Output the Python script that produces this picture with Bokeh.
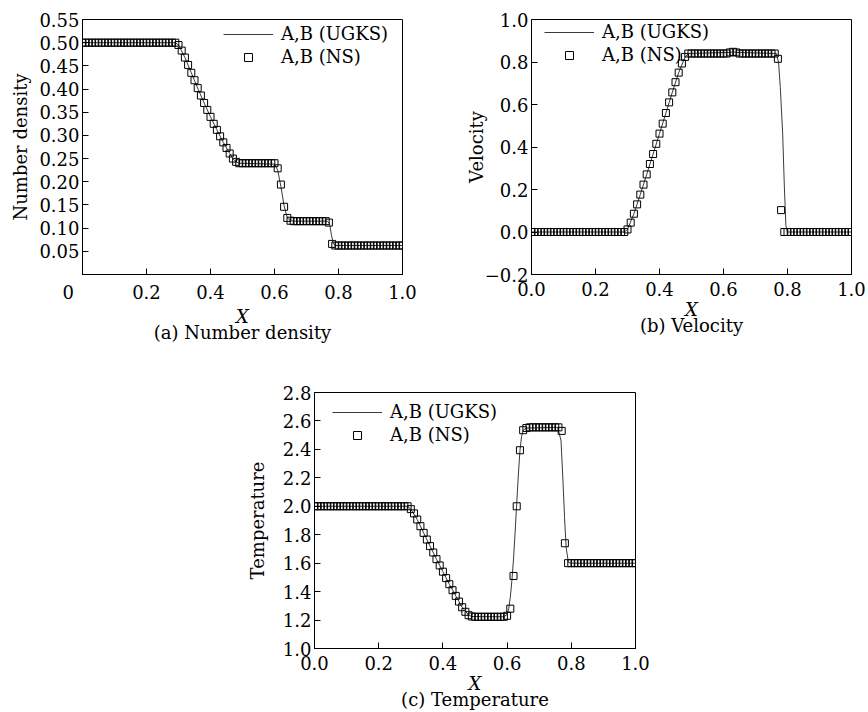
from bokeh.plotting import figure
from bokeh.layouts import column, row
from bokeh.models import (Range1d, FixedTicker, PrintfTickFormatter, Legend, LegendItem,
                          LinearAxis, Spacer)
from bokeh.embed import file_html
from bokeh.resources import INLINE

# ---------------- data ----------------
ns_x = [i / 100 for i in range(101)]

density_ns = ([0.5] * 30 +
              [0.495, 0.483, 0.468, 0.452, 0.435, 0.419, 0.402, 0.386, 0.370, 0.355,
               0.340, 0.325, 0.312, 0.298, 0.285, 0.273, 0.261, 0.250, 0.243] +
              [0.240] * 12 +
              [0.229, 0.194, 0.146, 0.122, 0.116] +
              [0.115] * 11 +
              [0.112, 0.066] +
              [0.0625] * 22)

velocity_ns = ([0.0] * 30 +
               [0.012, 0.044, 0.086, 0.130, 0.176, 0.223, 0.271, 0.320, 0.367, 0.415,
                0.463, 0.510, 0.560, 0.610, 0.657, 0.705, 0.750, 0.793, 0.824] +
               [0.84] * 13 +
               [0.845, 0.848, 0.845] +
               [0.84] * 12 +
               [0.815, 0.103] +
               [0.0] * 22)

temperature_ns = ([2.0] * 30 +
                  [1.98, 1.95, 1.907, 1.86, 1.813, 1.766, 1.72, 1.675, 1.628, 1.584,
                   1.54, 1.495, 1.452, 1.41, 1.37, 1.33, 1.29, 1.258, 1.234] +
                  [1.225] + [1.223] * 10 +
                  [1.23, 1.28, 1.51, 2.0, 2.394, 2.535, 2.55] +
                  [2.555] * 10 +
                  [2.53, 1.74] +
                  [1.6] * 22)

density_ugks_x = [0.0, 0.29, 0.30, 0.32, 0.34, 0.36, 0.38, 0.40, 0.42, 0.44, 0.46, 0.47, 0.48,
                  0.49, 0.60, 0.61, 0.62, 0.63, 0.64, 0.65, 0.66, 0.765, 0.772, 0.778, 0.784,
                  0.79, 1.0]
density_ugks = [0.5, 0.5, 0.495, 0.468, 0.435, 0.402, 0.370, 0.340, 0.312, 0.285, 0.261, 0.250,
                0.243, 0.240, 0.238, 0.225, 0.19, 0.148, 0.122, 0.116, 0.115, 0.115, 0.11,
                0.085, 0.066, 0.0625, 0.0625]

velocity_ugks_x = [0.0, 0.29, 0.30, 0.32, 0.34, 0.36, 0.38, 0.40, 0.42, 0.44, 0.46, 0.48, 0.49,
                   0.62, 0.63, 0.64, 0.765, 0.772, 0.7775, 0.785, 0.79, 0.795, 0.80, 1.0]
velocity_ugks = [0.0, 0.0, 0.012, 0.086, 0.176, 0.271, 0.367, 0.463, 0.56, 0.657, 0.75, 0.824,
                 0.84, 0.845, 0.848, 0.845, 0.84, 0.80, 0.68, 0.46, 0.22, 0.03, 0.0, 0.0]

temperature_ugks_x = [0.0, 0.29, 0.30, 0.32, 0.34, 0.36, 0.38, 0.40, 0.42, 0.44, 0.46, 0.48, 0.49,
                      0.59, 0.60, 0.605, 0.61, 0.615, 0.62, 0.625, 0.63, 0.635, 0.64, 0.645,
                      0.65, 0.66, 0.758, 0.768, 0.774, 0.779, 0.784, 0.791, 0.80, 1.0]
temperature_ugks = [2.0, 2.0, 1.98, 1.907, 1.813, 1.72, 1.628, 1.54, 1.452, 1.37, 1.29, 1.234,
                    1.225, 1.223, 1.24, 1.28, 1.36, 1.48, 1.63, 1.82, 2.02, 2.22, 2.39, 2.49,
                    2.535, 2.55, 2.555, 2.46, 2.18, 1.92, 1.71, 1.605, 1.6, 1.6]

x_ticks = [0.0, 0.2, 0.4, 0.6, 0.8, 1.0]
density_ticks = [0.05, 0.10, 0.15, 0.20, 0.25, 0.30, 0.35, 0.40, 0.45, 0.50, 0.55]
velocity_ticks = [-0.2, 0.0, 0.2, 0.4, 0.6, 0.8, 1.0]
temperature_ticks = [1.0, 1.2, 1.4, 1.6, 1.8, 2.0, 2.2, 2.4, 2.6, 2.8]

label_ugks = "A,B (UGKS)"
label_ns = "A,B (NS)"

FONT = "'DejaVu Serif', serif"
FS = "18px"


def style_axis(ax):
    ax.major_tick_in = 6
    ax.major_tick_out = 0
    ax.minor_tick_in = 0
    ax.minor_tick_out = 0
    ax.axis_line_color = "black"
    ax.major_tick_line_color = "black"
    ax.major_label_text_font = FONT
    ax.major_label_text_font_size = FS
    ax.major_label_text_color = "black"
    ax.axis_label_text_font = FONT
    ax.axis_label_text_font_size = FS
    ax.axis_label_text_color = "black"


def make_panel(width, height, borders, yrange, yticks, yfmt, ylabel, caption,
               xs_line, ys_line, ys_ns, legend_xy, ylabel_standoff):
    left, right, top, bottom = borders
    p = figure(width=width, height=height, output_backend="svg", toolbar_location=None,
               x_range=Range1d(0, 1), y_range=Range1d(*yrange),
               min_border_left=left, min_border_right=right,
               min_border_top=top, min_border_bottom=bottom)
    p.grid.visible = False
    p.outline_line_color = "black"
    p.outline_line_width = 1
    p.background_fill_color = "white"
    p.border_fill_color = "white"

    style_axis(p.xaxis[0])
    style_axis(p.yaxis[0])

    p.xaxis.ticker = FixedTicker(ticks=x_ticks)
    p.xaxis.formatter = PrintfTickFormatter(format="%.1f")
    p.xaxis.major_label_standoff = 7
    p.xaxis.axis_label = "X"
    p.xaxis.axis_label_text_font_style = "italic"
    p.xaxis.axis_label_standoff = 0

    p.yaxis.ticker = FixedTicker(ticks=yticks)
    p.yaxis.formatter = PrintfTickFormatter(format=yfmt)
    p.yaxis.major_label_standoff = 3
    p.yaxis.axis_label = ylabel
    p.yaxis.axis_label_text_font_style = "normal"
    p.yaxis.axis_label_standoff = ylabel_standoff

    # caption: an extra, tick-less axis below the X axis
    cap_axis = LinearAxis(ticker=FixedTicker(ticks=[]), axis_label=caption)
    style_axis(cap_axis)
    cap_axis.axis_line_color = None
    cap_axis.major_tick_line_color = None
    cap_axis.major_label_text_font_size = "0px"
    cap_axis.major_label_standoff = 0
    cap_axis.major_tick_in = 0
    cap_axis.axis_label_text_font_style = "normal"
    cap_axis.axis_label_standoff = -8
    p.add_layout(cap_axis, "below")

    r_line = p.line(xs_line, ys_line, line_color="#3a3a3a", line_width=1)
    r_sq = p.scatter(ns_x, ys_ns, marker="square", size=7, fill_color=None,
                     line_color="black", line_width=1)

    legend = Legend(items=[LegendItem(label=label_ugks, renderers=[r_line]),
                           LegendItem(label=label_ns, renderers=[r_sq])],
                    location=legend_xy, border_line_color=None,
                    background_fill_alpha=0, label_text_font=FONT,
                    label_text_font_size=FS, label_text_color="black",
                    glyph_width=50, glyph_height=20, label_standoff=8,
                    spacing=2, padding=0, margin=0)
    p.add_layout(legend, "center")
    return p


pa = make_panel(430, 345, (82, 28, 19, 70), (0, 0.55), density_ticks, "%.2f",
                "Number density", "(a) Number density",
                density_ugks_x, density_ugks, density_ns, (141, 207), 5)
pa.xaxis[0].major_label_overrides = {0: "0" + "\u00a0" * 5}

pb = make_panel(438, 345, (101, 17, 19, 70), (-0.2, 1.0), velocity_ticks, "%.1f",
                "Velocity", "(b) Velocity",
                velocity_ugks_x, velocity_ugks, velocity_ns, (13, 209), -5)
pb.yaxis[0].major_label_overrides = {-0.2: "\u22120.2"}

pc = make_panel(435, 367, (84, 30, 47, 64), (1.0, 2.8), temperature_ticks, "%.1f",
                "Temperature", "(c) Temperature",
                temperature_ugks_x, temperature_ugks, temperature_ns, (18, 203), 12)

layout = column(row(pa, pb, spacing=0), row(Spacer(width=230, height=367), pc, spacing=0),
                spacing=0)

open("out.html", "w").write(file_html(layout, INLINE))
